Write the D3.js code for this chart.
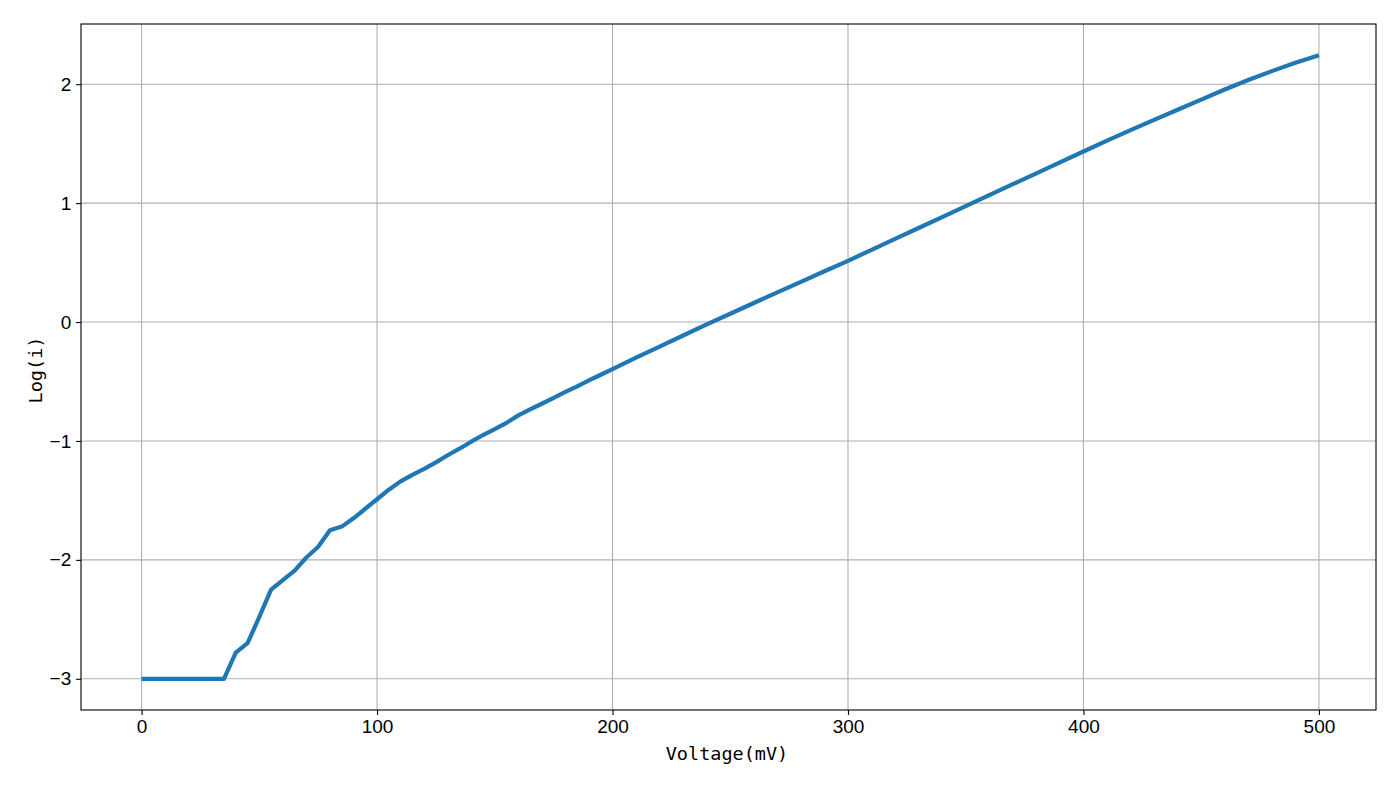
<!DOCTYPE html>
<html>
<head>
<meta charset="utf-8">
<script src="https://cdn.jsdelivr.net/npm/d3@7"></script>
<style>
  html, body { margin: 0; padding: 0; background: #fff; }
  svg { display: block; }
</style>
</head>
<body>
<svg id="chart" width="1400" height="787"></svg>
<script>
// ---- data ----
const voltage = [0,5,10,15,20,25,30,35,40,45,50,55,60,65,70,75,80,85,90,95,100,
  105,110,115,120,125,130,135,140,145,150,155,160,165,170,175,180,185,190,195,200,
  210,220,230,240,250,260,270,280,290,300,310,320,330,340,350,360,370,380,390,400,
  410,420,430,440,450,460,470,480,490,500];
const logI = [-3,-3,-3,-3,-3,-3,-3,-3,-2.78,-2.70,-2.48,-2.25,-2.17,-2.09,-1.98,-1.89,-1.75,-1.72,-1.65,-1.57,-1.49,
  -1.41,-1.34,-1.285,-1.235,-1.18,-1.12,-1.065,-1.006,-0.95,-0.90,-0.847,-0.785,-0.735,-0.687,-0.637,-0.588,-0.54,-0.49,-0.443,-0.395,
  -0.30,-0.207,-0.113,-0.02,0.07,0.16,0.25,0.338,0.427,0.515,0.607,0.699,0.791,0.883,0.975,1.067,1.159,1.25,1.342,1.434,
  1.525,1.614,1.70,1.785,1.87,1.955,2.035,2.11,2.18,2.244];
const xTicks = [0,100,200,300,400,500];
const yTicks = [-3,-2,-1,0,1,2];
const xLabel = "Voltage(mV)";
const yLabel = "Log(i)";

// ---- layout ----
const mLeft = 81, mRight = 1376, mTop = 24, mBottom = 710;
const svg = d3.select("#chart");

const xPad = (d3.max(voltage) - d3.min(voltage)) * 0.05;
const yPad = (d3.max(logI) - d3.min(logI)) * 0.05;
const x = d3.scaleLinear().domain([d3.min(voltage) - xPad, d3.max(voltage) + xPad]).range([mLeft + 1.7, mRight + 1.8]);
const y = d3.scaleLinear().domain([d3.min(logI) - yPad, d3.max(logI) + yPad]).range([mBottom, mTop]);

// grid
const grid = svg.append("g");
grid.selectAll(".gx").data(xTicks).enter().append("line")
  .attr("x1", d => x(d)).attr("x2", d => x(d)).attr("y1", mTop).attr("y2", mBottom)
  .attr("stroke", "#b0b0b0").attr("stroke-width", 1.1);
grid.selectAll(".gy").data(yTicks).enter().append("line")
  .attr("y1", d => y(d)).attr("y2", d => y(d)).attr("x1", mLeft).attr("x2", mRight)
  .attr("stroke", "#b0b0b0").attr("stroke-width", 1.1);

// line
const line = d3.line().x((d, i) => x(voltage[i])).y(d => y(d));
svg.append("path").datum(logI)
  .attr("d", line).attr("fill", "none")
  .attr("stroke", "#1f77b4").attr("stroke-width", 4.2)
  .attr("stroke-linejoin", "round").attr("stroke-linecap", "butt");

// axes
const fmt = d => d < 0 ? "\u2212" + Math.abs(d) : String(d);
const xAxis = d3.axisBottom(x).tickValues(xTicks).tickFormat(fmt).tickSizeInner(4.9).tickSizeOuter(0).tickPadding(4.9);
const yAxis = d3.axisLeft(y).tickValues(yTicks).tickFormat(fmt).tickSizeInner(4.9).tickSizeOuter(0).tickPadding(4.9);
const gx = svg.append("g").attr("transform", `translate(0,${mBottom})`).call(xAxis);
const gy = svg.append("g").attr("transform", `translate(${mLeft},0)`).call(yAxis);
[gx, gy].forEach(g => {
  g.select(".domain").remove();
  g.selectAll(".tick line").attr("stroke", "#000").attr("stroke-width", 1.1);
  g.selectAll(".tick text").attr("fill", "#000")
    .style("font-family", "'Liberation Sans', Arial, sans-serif").style("font-size", "19px");
});

// frame
svg.append("rect").attr("x", mLeft).attr("y", mTop).attr("width", mRight - mLeft).attr("height", mBottom - mTop)
  .attr("fill", "none").attr("stroke", "#000").attr("stroke-width", 1.1);

// labels
svg.append("text").text(xLabel)
  .attr("x", 727).attr("y", 753)
  .attr("text-anchor", "middle").attr("dominant-baseline", "central")
  .style("font-family", "'DejaVu Sans Mono', monospace").style("font-size", "18.5px").attr("fill", "#000");
svg.append("text").text(yLabel)
  .attr("transform", `translate(35,370) rotate(-90)`)
  .attr("text-anchor", "middle").attr("dominant-baseline", "central")
  .style("font-family", "'DejaVu Sans Mono', monospace").style("font-size", "18.5px").attr("fill", "#000");
</script>
</body>
</html>
